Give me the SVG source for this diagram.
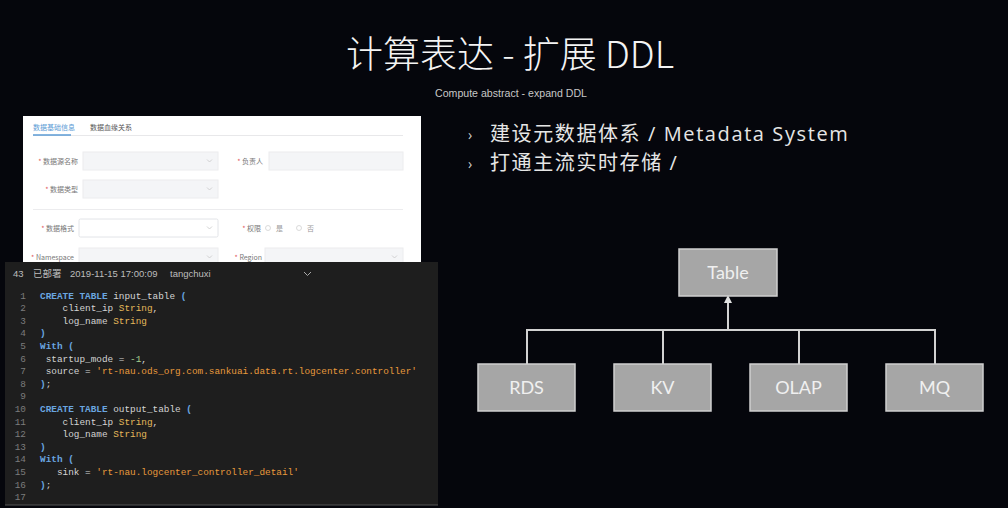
<svg xmlns="http://www.w3.org/2000/svg" width="1008" height="508" viewBox="0 0 1008 508">
<defs>
<style>
.title{font-family:"Noto Sans CJK SC","Noto Sans",sans-serif;font-weight:300;fill:#f4f4f4}
.sub{font-family:"Liberation Sans",Arial,sans-serif;font-size:10.6px;fill:#c8c8c8}
.bul{font-family:"Open Sans","Noto Sans CJK SC",sans-serif;font-size:20px;letter-spacing:1.6px;fill:#e6e6e6}
.mk{font-family:"Open Sans",sans-serif;font-size:14px;fill:#d0d0d0}
.fl{font-family:"Noto Sans CJK SC","Liberation Sans",sans-serif;font-size:7px;fill:#777;text-anchor:end}
.ast{fill:#e05a5a}
.inp{fill:#f4f5f7;stroke:#ececee;stroke-width:1}
.inpw{fill:#ffffff;stroke:#e2e4e8;stroke-width:1}
.chev{fill:none;stroke:#c8c8c8;stroke-width:0.8}
.hdr{font-family:"Liberation Sans","Noto Sans CJK SC",sans-serif;font-size:9.5px;fill:#bdbdbd}
.code{font-family:"Liberation Mono","DejaVu Sans Mono",monospace;font-size:9.4px;fill:#d4d4d4;white-space:pre}
.ln{font-family:"Liberation Mono",monospace;font-size:9.4px;fill:#7c7c7c;text-anchor:end}
.kw{fill:#6aa6e0;font-weight:bold}
.ty{fill:#e4b85a}
.st{fill:#e89a3c}
.nm{fill:#a8d08d}
.box{fill:#a6a6a6;stroke:#cfcfcf;stroke-width:1.5}
.bl{font-family:Lato,"Open Sans",sans-serif;font-size:18px;fill:#f0f0f0;text-anchor:middle}
.conn{fill:none;stroke:#d2d2d2;stroke-width:2}
</style>
<marker id="arr" viewBox="0 0 6 6" refX="3" refY="3" markerWidth="4" markerHeight="4" orient="auto">
<path d="M0,0 L6,3 L0,6 z" fill="#e0e0e0"/>
</marker>
</defs>
<rect width="1008" height="508" fill="#05060c"/>

<g id="title">
<text class="title" x="510" y="68" font-size="37" text-anchor="middle">计算表达 - 扩展 DDL</text>
<text class="sub" x="511" y="97" text-anchor="middle">Compute abstract - expand DDL</text>
</g>

<g id="bullets">
<text class="mk" x="468" y="140">›</text>
<text class="bul" x="490" y="141">建设元数据体系 / Metadata System</text>
<text class="mk" x="468" y="169">›</text>
<text class="bul" x="490" y="170">打通主流实时存储 /</text>
</g>

<g id="form">
<rect x="23" y="116" width="398" height="147" fill="#ffffff"/>
<text x="33" y="130" font-family="Noto Sans CJK SC,sans-serif" font-size="7" fill="#5b9bd5">数据基础信息</text>
<text x="90" y="130" font-family="Noto Sans CJK SC,sans-serif" font-size="7" fill="#555">数据血缘关系</text>
<line x1="33" y1="135.5" x2="403" y2="135.5" stroke="#e8e8ea" stroke-width="1"/>
<line x1="33" y1="135" x2="71" y2="135" stroke="#5b9bd5" stroke-width="1.5"/>

<text class="fl" x="78" y="164"><tspan class="ast">* </tspan>数据源名称</text>
<rect class="inp" x="83" y="152" width="135" height="18"/>
<path class="chev" d="M207,159.5 l2.5,2.5 l2.5,-2.5"/>
<text class="fl" x="263" y="164"><tspan class="ast">* </tspan>负责人</text>
<rect class="inp" x="269" y="152" width="134" height="18"/>

<text class="fl" x="78" y="192"><tspan class="ast">* </tspan>数据类型</text>
<rect class="inp" x="83" y="180" width="135" height="18"/>
<path class="chev" d="M207,187.5 l2.5,2.5 l2.5,-2.5"/>

<line x1="33" y1="209.5" x2="403" y2="209.5" stroke="#ececee" stroke-width="1"/>

<text class="fl" x="74" y="231"><tspan class="ast">* </tspan>数据格式</text>
<rect class="inpw" x="79" y="219" width="139" height="18" rx="1.5"/>
<path class="chev" d="M207,226.5 l2.5,2.5 l2.5,-2.5"/>
<text class="fl" x="261" y="231"><tspan class="ast">* </tspan>权限</text>
<circle cx="268" cy="228" r="2.5" fill="none" stroke="#ccc" stroke-width="0.7"/>
<text x="276" y="231" font-family="Noto Sans CJK SC,sans-serif" font-size="7" fill="#999">是</text>
<circle cx="299" cy="228" r="2.5" fill="none" stroke="#ccc" stroke-width="0.7"/>
<text x="307" y="231" font-family="Noto Sans CJK SC,sans-serif" font-size="7" fill="#999">否</text>

<text class="fl" x="74" y="260" font-family="Liberation Sans,sans-serif"><tspan class="ast">* </tspan>Namespace</text>
<rect class="inp" x="79" y="248" width="139" height="18"/>
<path class="chev" d="M207,255.5 l2.5,2.5 l2.5,-2.5"/>
<text class="fl" x="262" y="260" font-family="Liberation Sans,sans-serif"><tspan class="ast">* </tspan>Region</text>
<rect class="inp" x="265" y="248" width="138" height="18"/>
<path class="chev" d="M392,255.5 l2.5,2.5 l2.5,-2.5"/>
</g>

<g id="editor">
<rect x="5" y="262" width="433" height="243" fill="#1e1e1e"/>
<line x1="5" y1="505" x2="438" y2="505" stroke="#555" stroke-width="1"/>
<text class="hdr" x="13" y="277">43</text>
<text class="hdr" x="33" y="277" font-size="10.5">已部署</text>
<text class="hdr" x="70" y="277">2019-11-15 17:00:09</text>
<text class="hdr" x="170" y="277">tangchuxi</text>
<path d="M304,272 l3.5,3.5 l3.5,-3.5" fill="none" stroke="#aaa" stroke-width="1"/>

<text class="ln" x="26" y="298.5">1</text>
<text class="ln" x="26" y="311.1">2</text>
<text class="ln" x="26" y="323.7">3</text>
<text class="ln" x="26" y="336.3">4</text>
<text class="ln" x="26" y="348.9">5</text>
<text class="ln" x="26" y="361.5">6</text>
<text class="ln" x="26" y="374.1">7</text>
<text class="ln" x="26" y="386.7">8</text>
<text class="ln" x="26" y="399.3">9</text>
<text class="ln" x="26" y="411.9">10</text>
<text class="ln" x="26" y="424.5">11</text>
<text class="ln" x="26" y="437.1">12</text>
<text class="ln" x="26" y="449.7">13</text>
<text class="ln" x="26" y="462.3">14</text>
<text class="ln" x="26" y="474.9">15</text>
<text class="ln" x="26" y="487.5">16</text>
<text class="ln" x="26" y="500.1">17</text>

<text class="code" x="40" y="298.5"><tspan class="kw">CREATE TABLE</tspan> input_table <tspan class="kw">(</tspan></text>
<text class="code" x="40" y="311.1">    client_ip <tspan class="ty">String</tspan>,</text>
<text class="code" x="40" y="323.7">    log_name <tspan class="ty">String</tspan></text>
<text class="code" x="40" y="336.3"><tspan class="kw">)</tspan></text>
<text class="code" x="40" y="348.9"><tspan class="kw">With (</tspan></text>
<text class="code" x="40" y="361.5"> startup_mode = <tspan class="nm">-1</tspan>,</text>
<text class="code" x="40" y="374.1"> source = <tspan class="st">'rt-nau.ods_org.com.sankuai.data.rt.logcenter.controller'</tspan></text>
<text class="code" x="40" y="386.7"><tspan class="kw">)</tspan>;</text>
<text class="code" x="40" y="411.9"><tspan class="kw">CREATE TABLE</tspan> output_table <tspan class="kw">(</tspan></text>
<text class="code" x="40" y="424.5">    client_ip <tspan class="ty">String</tspan>,</text>
<text class="code" x="40" y="437.1">    log_name <tspan class="ty">String</tspan></text>
<text class="code" x="40" y="449.7"><tspan class="kw">)</tspan></text>
<text class="code" x="40" y="462.3"><tspan class="kw">With (</tspan></text>
<text class="code" x="40" y="474.9">   sink = <tspan class="st">'rt-nau.logcenter_controller_detail'</tspan></text>
<text class="code" x="40" y="487.5"><tspan class="kw">)</tspan>;</text>
</g>

<g id="connectors">
<path class="conn" d="M527,364 V330 H935 V364"/>
<path class="conn" d="M663,364 V330"/>
<path class="conn" d="M799,364 V330"/>
<path class="conn" d="M728,330 V299" marker-end="url(#arr)"/>
</g>

<g id="node-table">
<rect class="box" x="679" y="249" width="98" height="47"/>
<text class="bl" x="728" y="279">Table</text>
</g>
<g id="node-rds">
<rect class="box" x="478" y="364" width="97" height="47"/>
<text class="bl" x="526.5" y="394">RDS</text>
</g>
<g id="node-kv">
<rect class="box" x="614" y="364" width="97" height="47"/>
<text class="bl" x="662.5" y="394">KV</text>
</g>
<g id="node-olap">
<rect class="box" x="750" y="364" width="97" height="47"/>
<text class="bl" x="798.5" y="394">OLAP</text>
</g>
<g id="node-mq">
<rect class="box" x="886" y="364" width="97" height="47"/>
<text class="bl" x="934.5" y="394">MQ</text>
</g>
</svg>
